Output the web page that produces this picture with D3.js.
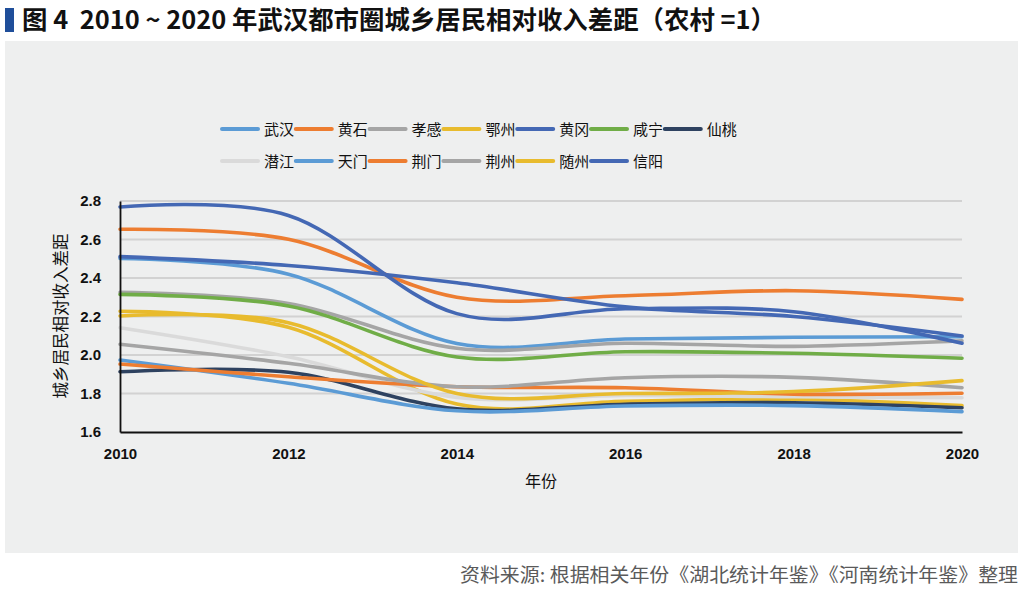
<!DOCTYPE html>
<html><head><meta charset="utf-8">
<script src="https://cdn.jsdelivr.net/npm/d3@7"></script>
<style>
html,body{margin:0;padding:0;background:#fff;}
svg{display:block;}
</style></head>
<body>
<svg id="c" width="1024" height="591"></svg>
<script>
const years = [2010, 2012, 2014, 2016, 2018, 2020];
const cities = ["武汉","黄石","孝感","鄂州","黄冈","咸宁","仙桃","潜江","天门","荆门","荆州","随州","信阳"];
const colors = ["#5B9BD5","#ED7D31","#A5A5A5","#E8BB2E","#4468B4","#70AD47","#2E4260","#DADADA","#5B9BD5","#ED7D31","#A5A5A5","#E8BB2E","#4468B4"];
const wuhan    = [2.502, 2.420, 2.060, 2.083, 2.092, 2.095];
const huangshi = [2.653, 2.601, 2.300, 2.308, 2.334, 2.289];
const xiaogan  = [2.326, 2.268, 2.035, 2.061, 2.045, 2.074];
const ezhou    = [2.227, 2.144, 1.745, 1.760, 1.770, 1.737];
const huanggang= [2.511, 2.465, 2.375, 2.250, 2.200, 2.099];
const xianning = [2.315, 2.255, 1.990, 2.017, 2.009, 1.983];
const xiantao  = [1.913, 1.910, 1.720, 1.744, 1.752, 1.726];
const qianjiang= [2.142, 1.991, 1.780, 1.790, 1.783, 1.778];
const tianmen  = [1.974, 1.853, 1.710, 1.735, 1.737, 1.706];
const jingmen  = [1.953, 1.887, 1.835, 1.830, 1.797, 1.801];
const jingzhou = [2.056, 1.957, 1.835, 1.882, 1.884, 1.830];
const suizhou  = [2.203, 2.168, 1.800, 1.800, 1.810, 1.867];
const xinyang  = [2.769, 2.725, 2.215, 2.240, 2.225, 2.061];
const seriesValues = [wuhan,huangshi,xiaogan,ezhou,huanggang,xianning,xiantao,qianjiang,tianmen,jingmen,jingzhou,suizhou,xinyang];
const yTicks = [1.6, 1.8, 2.0, 2.2, 2.4, 2.6, 2.8];
const title = "图 4  2010 ~ 2020 年武汉都市圈城乡居民相对收入差距（农村 =1）";
const yTitle = "城乡居民相对收入差距";
const xTitle = "年份";
const source = "资料来源: 根据相关年份《湖北统计年鉴》《河南统计年鉴》整理";

const svg = d3.select("#c");
const font = "'Noto Sans CJK SC','Noto Sans',sans-serif";

// panel
svg.append("rect").attr("x",5).attr("y",41).attr("width",1013).attr("height",512).attr("fill","#EEEFEF");
// title
svg.append("rect").attr("x",5).attr("y",8).attr("width",9).attr("height",24).attr("fill","#1F4E9A");
svg.append("text").attr("x",22).attr("y",29).attr("font-family",font).attr("font-size",25).attr("font-weight","bold")
  .style("white-space","pre")
  .attr("fill","#111").attr("textLength",754).attr("lengthAdjust","spacingAndGlyphs").text(title);

const x = d3.scaleLinear().domain([2010,2020]).range([120,962]);
const y = d3.scaleLinear().domain([1.6,2.8]).range([432,201]);

// gridlines
svg.append("g").selectAll("line").data(yTicks.filter(d=>d>1.6)).join("line")
  .attr("x1",120).attr("x2",962).attr("y1",d=>y(d)).attr("y2",d=>y(d))
  .attr("stroke","#D2D2D2").attr("stroke-width",2);

// lines
const line = d3.line().x((d,i)=>x(years[i])).y(d=>y(d)).curve(d3.curveCardinal.tension(0));
svg.append("g").selectAll("path").data(seriesValues).join("path")
  .attr("d",d=>line(d)).attr("fill","none")
  .attr("stroke",(d,i)=>colors[i]).attr("stroke-width",3.6).attr("stroke-linecap","round");

// axes
const yAxis = d3.axisLeft(y).tickValues(yTicks).tickFormat(d3.format(".1f")).tickSize(0).tickPadding(19);
const gy = svg.append("g").attr("transform","translate(120,0)").call(yAxis);
gy.select(".domain").attr("stroke","#111").attr("stroke-width",1.8);
gy.selectAll("text").attr("font-family","'Liberation Sans',Arial,sans-serif").attr("font-size",15).attr("font-weight","bold").attr("fill","#111");

const xAxis = d3.axisBottom(x).tickValues(years).tickFormat(d3.format("d")).tickSize(0).tickPadding(16);
const gx = svg.append("g").attr("transform","translate(0,432)").call(xAxis);
gx.select(".domain").attr("stroke","#111").attr("stroke-width",1.8);
gx.selectAll("text").attr("font-family","'Liberation Sans',Arial,sans-serif").attr("font-size",15).attr("font-weight","bold").attr("fill","#111");

// axis titles
svg.append("text").attr("transform","translate(67,316) rotate(-90)").attr("text-anchor","middle")
  .attr("font-family",font).attr("font-size",16.5).attr("fill","#111").text(yTitle);
svg.append("text").attr("x",541).attr("y",487).attr("text-anchor","middle")
  .attr("font-family",font).attr("font-size",16).attr("fill","#111").text(xTitle);

// legend
const lg = svg.append("g");
cities.forEach((c,i)=>{
  const row = i<7?0:1, col = i<7?i:i-7;
  const lx = 222 + col*73.8, ly = row===0?129:161;
  lg.append("line").attr("x1",lx).attr("x2",lx+36).attr("y1",ly).attr("y2",ly)
    .attr("stroke",colors[i]).attr("stroke-width",4).attr("stroke-linecap","round");
  lg.append("text").attr("x",lx+42).attr("y",ly+5.5).attr("font-family",font).attr("font-size",15)
    .attr("fill","#111").text(c);
});

// source
svg.append("text").attr("x",1018).attr("y",582).attr("text-anchor","end")
  .attr("font-family",font).attr("font-size",19).attr("fill","#5a5a5a")
  .attr("textLength",558).attr("lengthAdjust","spacingAndGlyphs").text(source);
</script>
</body></html>
